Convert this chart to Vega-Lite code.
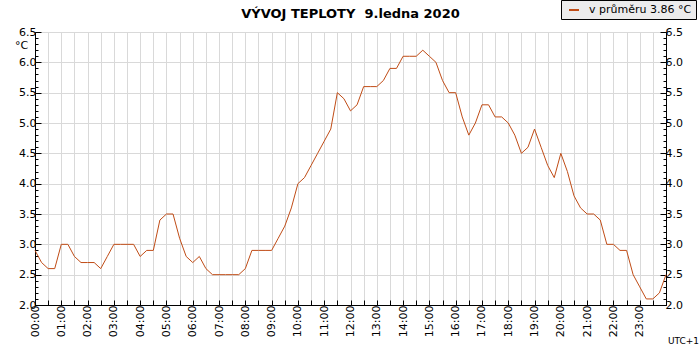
{
  "$schema": "https://vega.github.io/schema/vega-lite/v6.json",
  "width": 631,
  "height": 273,
  "autosize": "none",
  "padding": {"left": 35, "top": 32, "right": 34, "bottom": 45},
  "background": "white",
  "config": {"view": {"stroke": null}},
  "title": {
    "text": "VÝVOJ TEPLOTY\u00a0 9.ledna 2020",
    "font": "DejaVu Sans",
    "fontSize": 13,
    "fontWeight": "bold",
    "color": "#000",
    "frame": "group",
    "anchor": "middle",
    "baseline": "alphabetic",
    "offset": 15,
    "dy": 46
  },
  "data": {
    "values": [
      {"h": 0, "t": 2.9}, {"h": 0.25, "t": 2.7}, {"h": 0.5, "t": 2.6}, {"h": 0.75, "t": 2.6},
      {"h": 1, "t": 3.0}, {"h": 1.25, "t": 3.0}, {"h": 1.5, "t": 2.8}, {"h": 1.75, "t": 2.7},
      {"h": 2, "t": 2.7}, {"h": 2.25, "t": 2.7}, {"h": 2.5, "t": 2.6}, {"h": 2.75, "t": 2.8},
      {"h": 3, "t": 3.0}, {"h": 3.25, "t": 3.0}, {"h": 3.5, "t": 3.0}, {"h": 3.75, "t": 3.0},
      {"h": 4, "t": 2.8}, {"h": 4.25, "t": 2.9}, {"h": 4.5, "t": 2.9}, {"h": 4.75, "t": 3.4},
      {"h": 5, "t": 3.5}, {"h": 5.25, "t": 3.5}, {"h": 5.5, "t": 3.1}, {"h": 5.75, "t": 2.8},
      {"h": 6, "t": 2.7}, {"h": 6.25, "t": 2.8}, {"h": 6.5, "t": 2.6}, {"h": 6.75, "t": 2.5},
      {"h": 7, "t": 2.5}, {"h": 7.25, "t": 2.5}, {"h": 7.5, "t": 2.5}, {"h": 7.75, "t": 2.5},
      {"h": 8, "t": 2.6}, {"h": 8.25, "t": 2.9}, {"h": 8.5, "t": 2.9}, {"h": 8.75, "t": 2.9},
      {"h": 9, "t": 2.9}, {"h": 9.25, "t": 3.1}, {"h": 9.5, "t": 3.3}, {"h": 9.75, "t": 3.6},
      {"h": 10, "t": 4.0}, {"h": 10.25, "t": 4.1}, {"h": 10.5, "t": 4.3}, {"h": 10.75, "t": 4.5},
      {"h": 11, "t": 4.7}, {"h": 11.25, "t": 4.9}, {"h": 11.5, "t": 5.5}, {"h": 11.75, "t": 5.4},
      {"h": 12, "t": 5.2}, {"h": 12.25, "t": 5.3}, {"h": 12.5, "t": 5.6}, {"h": 12.75, "t": 5.6},
      {"h": 13, "t": 5.6}, {"h": 13.25, "t": 5.7}, {"h": 13.5, "t": 5.9}, {"h": 13.75, "t": 5.9},
      {"h": 14, "t": 6.1}, {"h": 14.25, "t": 6.1}, {"h": 14.5, "t": 6.1}, {"h": 14.75, "t": 6.2},
      {"h": 15, "t": 6.1}, {"h": 15.25, "t": 6.0}, {"h": 15.5, "t": 5.7}, {"h": 15.75, "t": 5.5},
      {"h": 16, "t": 5.5}, {"h": 16.25, "t": 5.1}, {"h": 16.5, "t": 4.8}, {"h": 16.75, "t": 5.0},
      {"h": 17, "t": 5.3}, {"h": 17.25, "t": 5.3}, {"h": 17.5, "t": 5.1}, {"h": 17.75, "t": 5.1},
      {"h": 18, "t": 5.0}, {"h": 18.25, "t": 4.8}, {"h": 18.5, "t": 4.5}, {"h": 18.75, "t": 4.6},
      {"h": 19, "t": 4.9}, {"h": 19.25, "t": 4.6}, {"h": 19.5, "t": 4.3}, {"h": 19.75, "t": 4.1},
      {"h": 20, "t": 4.5}, {"h": 20.25, "t": 4.2}, {"h": 20.5, "t": 3.8}, {"h": 20.75, "t": 3.6},
      {"h": 21, "t": 3.5}, {"h": 21.25, "t": 3.5}, {"h": 21.5, "t": 3.4}, {"h": 21.75, "t": 3.0},
      {"h": 22, "t": 3.0}, {"h": 22.25, "t": 2.9}, {"h": 22.5, "t": 2.9}, {"h": 22.75, "t": 2.5},
      {"h": 23, "t": 2.3}, {"h": 23.25, "t": 2.1}, {"h": 23.5, "t": 2.1}, {"h": 23.75, "t": 2.2},
      {"h": 24, "t": 2.5}
    ]
  },
  "resolve": {"axis": {"x": "independent", "y": "independent"}},
  "layer": [
    {
      "mark": {"type": "line", "strokeWidth": 1, "interpolate": "linear"},
      "encoding": {
        "x": {
          "field": "h", "type": "quantitative",
          "scale": {"domain": [0, 24], "nice": false, "zero": false},
          "axis": {
            "orient": "bottom",
            "values": [0,0.5,1,1.5,2,2.5,3,3.5,4,4.5,5,5.5,6,6.5,7,7.5,8,8.5,9,9.5,10,10.5,11,11.5,12,12.5,13,13.5,14,14.5,15,15.5,16,16.5,17,17.5,18,18.5,19,19.5,20,20.5,21,21.5,22,22.5,23,23.5,24],
            "labelExpr": "(datum.value % 1 == 0 && datum.value < 24) ? ((datum.value < 10 ? '0' : '') + datum.value + ':00') : ''",
            "labelAngle": 270,
            "labelFont": "DejaVu Sans",
            "labelFontSize": 11,
            "labelColor": "#000",
            "labelPadding": 5,
            "labelOverlap": false,
            "labelFlush": false,
            "labelBound": false,
            "grid": true,
            "gridColor": "#d9d9d9",
            "gridWidth": 1,
            "domain": true,
            "domainColor": "#000",
            "domainWidth": 1,
            "ticks": true,
            "tickColor": "#000",
            "tickSize": -5,
            "title": null
          }
        },
        "y": {
          "field": "t", "type": "quantitative",
          "scale": {"domain": [2, 6.5], "nice": false, "zero": false},
          "axis": {
            "orient": "left",
            "values": [2,2.5,3,3.5,4,4.5,5,5.5,6,6.5],
            "format": ".1f",
            "labelFont": "DejaVu Sans",
            "labelFontSize": 11,
            "labelColor": "#000",
            "labelPadding": 5,
            "labelOverlap": false,
            "labelFlush": false,
            "grid": true,
            "gridColor": "#d9d9d9",
            "gridWidth": 1,
            "domain": true,
            "domainColor": "#000",
            "ticks": true,
            "tickColor": "#000",
            "tickSize": -6,
            "title": "°C",
            "titleFont": "DejaVu Sans",
            "titleFontSize": 11,
            "titleFontWeight": "normal",
            "titleColor": "#000",
            "titleAngle": 0,
            "titleAlign": "center",
            "titleBaseline": "middle",
            "titleX": -14,
            "titleY": 13
          }
        },
        "color": {
          "datum": "v průměru 3.86 °C",
          "scale": {"range": ["#c04c16"]},
          "legend": {
            "orient": "none",
            "legendX": 526,
            "legendY": -32,
            "title": null,
            "fillColor": "#ececec",
            "strokeColor": "#000",
            "padding": 4,
            "symbolType": "stroke",
            "symbolSize": 100,
            "symbolStrokeWidth": 2,
            "symbolOffset": 3,
            "labelOffset": 9,
            "labelFont": "DejaVu Sans",
            "labelFontSize": 11,
            "labelColor": "#000"
          }
        }
      }
    },
    {
      "mark": {"type": "line", "opacity": 0},
      "encoding": {
        "x": {"field": "h", "type": "quantitative", "axis": null},
        "y": {
          "field": "t", "type": "quantitative",
          "axis": {
            "orient": "left",
            "values": [2,2.1,2.2,2.3,2.4,2.5,2.6,2.7,2.8,2.9,3,3.1,3.2,3.3,3.4,3.5,3.6,3.7,3.8,3.9,4,4.1,4.2,4.3,4.4,4.5,4.6,4.7,4.8,4.9,5,5.1,5.2,5.3,5.4,5.5,5.6,5.7,5.8,5.9,6,6.1,6.2,6.3,6.4,6.5],
            "labels": false,
            "grid": false,
            "domain": false,
            "ticks": true,
            "tickColor": "#000",
            "tickSize": -3,
            "title": null
          }
        }
      }
    },
    {
      "mark": {"type": "line", "opacity": 0},
      "encoding": {
        "x": {"field": "h", "type": "quantitative", "axis": null},
        "y": {
          "field": "t", "type": "quantitative",
          "axis": {
            "orient": "right",
            "values": [2,2.5,3,3.5,4,4.5,5,5.5,6,6.5],
            "format": ".1f",
            "labelFont": "DejaVu Sans",
            "labelFontSize": 11,
            "labelColor": "#000",
            "labelPadding": 5,
            "labelOverlap": false,
            "labelFlush": false,
            "grid": false,
            "domain": true,
            "domainColor": "#000",
            "ticks": true,
            "tickColor": "#000",
            "tickSize": -6,
            "title": "UTC+1",
            "titleFont": "DejaVu Sans",
            "titleFontSize": 9,
            "titleFontWeight": "normal",
            "titleColor": "#000",
            "titleAngle": 0,
            "titleAlign": "center",
            "titleBaseline": "middle",
            "titleX": 17,
            "titleY": 308
          }
        }
      }
    },
    {
      "mark": {"type": "line", "opacity": 0},
      "encoding": {
        "x": {"field": "h", "type": "quantitative", "axis": null},
        "y": {
          "field": "t", "type": "quantitative",
          "axis": {
            "orient": "right",
            "values": [2,2.1,2.2,2.3,2.4,2.5,2.6,2.7,2.8,2.9,3,3.1,3.2,3.3,3.4,3.5,3.6,3.7,3.8,3.9,4,4.1,4.2,4.3,4.4,4.5,4.6,4.7,4.8,4.9,5,5.1,5.2,5.3,5.4,5.5,5.6,5.7,5.8,5.9,6,6.1,6.2,6.3,6.4,6.5],
            "labels": false,
            "grid": false,
            "domain": false,
            "ticks": true,
            "tickColor": "#000",
            "tickSize": -3,
            "title": null
          }
        }
      }
    }
  ]
}
